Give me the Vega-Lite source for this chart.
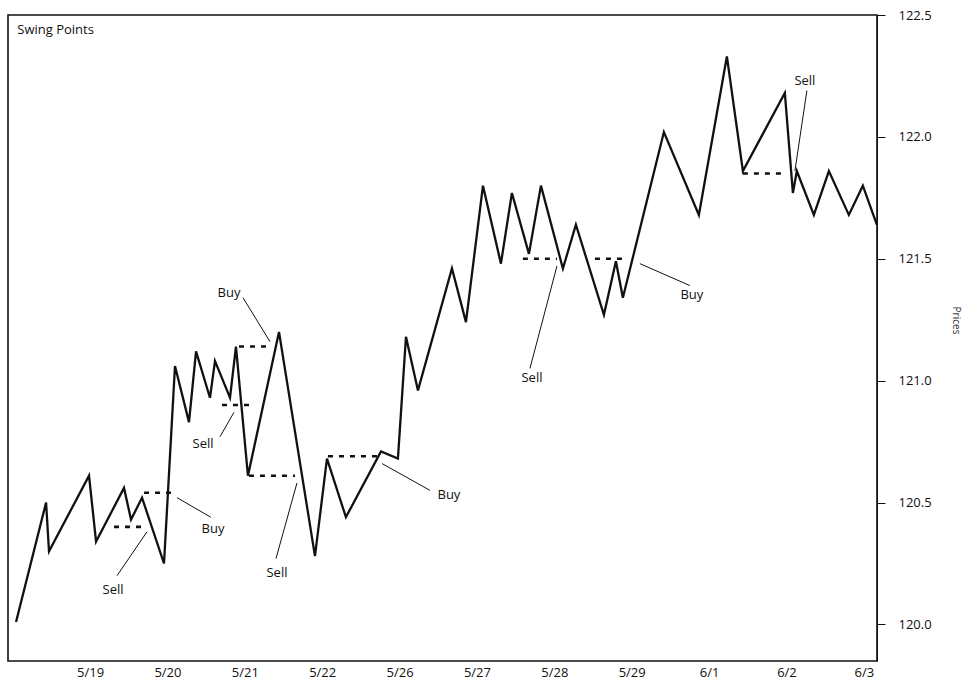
{
  "$schema": "https://vega.github.io/schema/vega-lite/v6.json",
  "width": 869,
  "height": 646,
  "autosize": "none",
  "padding": {"left": 8, "top": 15, "right": 88, "bottom": 27},
  "background": "white",
  "config": {
    "font": "Open Sans",
    "view": {"stroke": "#111", "strokeWidth": 1.6},
    "axis": {"grid": false, "labelFont": "Open Sans", "titleFont": "Open Sans"}
  },
  "datasets": {
    "price": [
      {"t": 0.044, "p": 120.01},
      {"t": 0.432, "p": 120.50},
      {"t": 0.470, "p": 120.30},
      {"t": 0.987, "p": 120.61},
      {"t": 1.078, "p": 120.34},
      {"t": 1.439, "p": 120.56},
      {"t": 1.530, "p": 120.43},
      {"t": 1.672, "p": 120.52},
      {"t": 1.956, "p": 120.25},
      {"t": 2.098, "p": 121.06},
      {"t": 2.279, "p": 120.83},
      {"t": 2.370, "p": 121.12},
      {"t": 2.550, "p": 120.93},
      {"t": 2.615, "p": 121.08},
      {"t": 2.809, "p": 120.93},
      {"t": 2.886, "p": 121.14},
      {"t": 3.041, "p": 120.61},
      {"t": 3.442, "p": 121.20},
      {"t": 3.907, "p": 120.28},
      {"t": 4.062, "p": 120.68},
      {"t": 4.307, "p": 120.44},
      {"t": 4.760, "p": 120.71},
      {"t": 4.979, "p": 120.68},
      {"t": 5.083, "p": 121.18},
      {"t": 5.238, "p": 120.96},
      {"t": 5.677, "p": 121.46},
      {"t": 5.858, "p": 121.24},
      {"t": 6.078, "p": 121.80},
      {"t": 6.310, "p": 121.48},
      {"t": 6.452, "p": 121.77},
      {"t": 6.672, "p": 121.52},
      {"t": 6.827, "p": 121.80},
      {"t": 7.111, "p": 121.46},
      {"t": 7.279, "p": 121.64},
      {"t": 7.641, "p": 121.27},
      {"t": 7.796, "p": 121.49},
      {"t": 7.886, "p": 121.34},
      {"t": 8.416, "p": 122.02},
      {"t": 8.868, "p": 121.68},
      {"t": 9.230, "p": 122.33},
      {"t": 9.437, "p": 121.86},
      {"t": 9.979, "p": 122.18},
      {"t": 10.083, "p": 121.77},
      {"t": 10.134, "p": 121.86},
      {"t": 10.354, "p": 121.68},
      {"t": 10.548, "p": 121.86},
      {"t": 10.806, "p": 121.68},
      {"t": 10.987, "p": 121.80},
      {"t": 11.168, "p": 121.64}
    ],
    "levels": [
      {"t": 1.310, "t2": 1.736, "p": 120.40},
      {"t": 1.698, "t2": 2.098, "p": 120.54},
      {"t": 2.925, "t2": 3.351, "p": 121.14},
      {"t": 2.705, "t2": 3.106, "p": 120.90},
      {"t": 3.054, "t2": 3.649, "p": 120.61},
      {"t": 4.075, "t2": 4.708, "p": 120.69},
      {"t": 6.594, "t2": 7.034, "p": 121.50},
      {"t": 7.525, "t2": 7.938, "p": 121.50},
      {"t": 9.437, "t2": 10.005, "p": 121.85}
    ],
    "notes": [
      {"label": "Sell", "t": 1.349, "p": 120.20, "t2": 1.736, "p2": 120.38, "lt": 1.297, "lp": 120.14},
      {"label": "Buy", "t": 2.124, "p": 120.52, "t2": 2.560, "p2": 120.44, "lt": 2.589, "lp": 120.39},
      {"label": "Sell", "t": 2.680, "p": 120.77, "t2": 2.860, "p2": 120.87, "lt": 2.460, "lp": 120.74},
      {"label": "Buy", "t": 2.977, "p": 121.34, "t2": 3.326, "p2": 121.16, "lt": 2.796, "lp": 121.36},
      {"label": "Sell", "t": 3.403, "p": 120.27, "t2": 3.674, "p2": 120.58, "lt": 3.416, "lp": 120.21},
      {"label": "Buy", "t": 4.773, "p": 120.66, "t2": 5.393, "p2": 120.55, "lt": 5.638, "lp": 120.53},
      {"label": "Sell", "t": 6.685, "p": 121.05, "t2": 7.034, "p2": 121.47, "lt": 6.711, "lp": 121.01},
      {"label": "Buy", "t": 8.106, "p": 121.48, "t2": 8.752, "p2": 121.39, "lt": 8.778, "lp": 121.35},
      {"label": "Sell", "t": 10.264, "p": 122.19, "t2": 10.109, "p2": 121.86, "lt": 10.238, "lp": 122.23}
    ]
  },
  "encoding": {
    "x": {
      "type": "quantitative",
      "scale": {"domain": [-0.06, 11.17], "nice": false, "zero": false},
      "axis": {
        "values": [1, 2, 3, 4, 5, 6, 7, 8, 9, 10, 11],
        "labelExpr": "['','5/19','5/20','5/21','5/22','5/26','5/27','5/28','5/29','6/1','6/2','6/3'][datum.value]",
        "title": null,
        "ticks": false,
        "domain": false,
        "labelPadding": 5,
        "labelFontSize": 13,
        "labelColor": "#111"
      }
    },
    "y": {
      "type": "quantitative",
      "scale": {"domain": [119.85, 122.5], "nice": false, "zero": false},
      "axis": {
        "orient": "right",
        "values": [120, 120.5, 121, 121.5, 122, 122.5],
        "format": ".1f",
        "title": "Prices",
        "titleAngle": 90,
        "titleFontSize": 10,
        "titleFontWeight": "normal",
        "titleColor": "#333",
        "titlePadding": 19,
        "titleY": 305,
        "tickSize": 8,
        "tickColor": "#111",
        "domainColor": "#111",
        "domainWidth": 1,
        "labelPadding": 13,
        "labelFontSize": 13,
        "labelColor": "#111"
      }
    }
  },
  "layer": [
    {
      "data": {"name": "price"},
      "mark": {"type": "line", "color": "#111", "strokeWidth": 2.3, "strokeJoin": "miter", "clip": true},
      "encoding": {
        "x": {"field": "t", "type": "quantitative"},
        "y": {"field": "p", "type": "quantitative"}
      }
    },
    {
      "data": {"name": "levels"},
      "mark": {"type": "rule", "color": "#111", "strokeWidth": 2.6, "strokeDash": [5, 6]},
      "encoding": {
        "x": {"field": "t", "type": "quantitative"},
        "x2": {"field": "t2"},
        "y": {"field": "p", "type": "quantitative"}
      }
    },
    {
      "data": {"name": "notes"},
      "mark": {"type": "rule", "color": "#111", "strokeWidth": 1},
      "encoding": {
        "x": {"field": "t", "type": "quantitative"},
        "x2": {"field": "t2"},
        "y": {"field": "p", "type": "quantitative"},
        "y2": {"field": "p2"}
      }
    },
    {
      "data": {"name": "notes"},
      "mark": {"type": "text", "color": "#111", "fontSize": 13, "align": "center", "baseline": "middle"},
      "encoding": {
        "x": {"field": "lt", "type": "quantitative"},
        "y": {"field": "lp", "type": "quantitative"},
        "text": {"field": "label"}
      }
    },
    {
      "data": {"values": [{"caption": "Swing Points"}]},
      "mark": {"type": "text", "color": "#111", "fontSize": 13, "align": "left", "baseline": "middle"},
      "encoding": {
        "x": {"datum": 0.06},
        "y": {"datum": 122.44},
        "text": {"field": "caption"}
      }
    }
  ]
}
